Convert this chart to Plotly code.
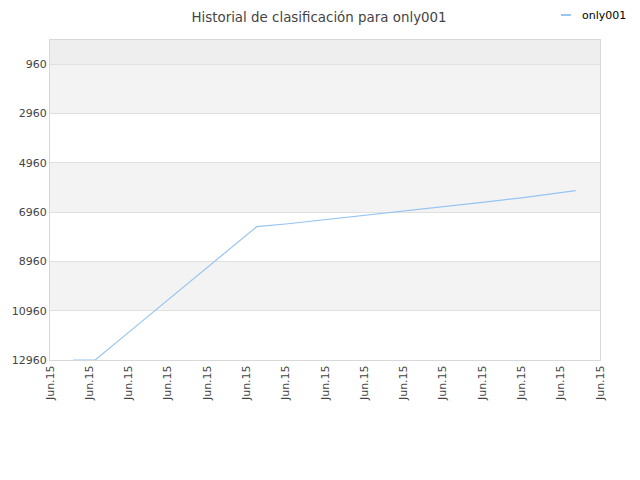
import plotly.graph_objects as go

# data (x in tick-slot units, y = rank)
x_pos = [0.59, 1.15, 2.0, 3.0, 4.0, 5.26, 6.0, 7.0, 8.0, 9.0, 10.0, 11.0, 12.0, 13.38]
rank = [12960, 12960, 11840, 10530, 9220, 7550, 7440, 7270, 7090, 6920, 6740, 6560, 6380, 6090]

tick_pos = list(range(15))
tick_text = ["Jun.15"] * 15
y_ticks = [960, 2960, 4960, 6960, 8960, 10960, 12960]
series_name = "only001"
line_col = "#96c4f2"

fig = go.Figure()
fig.add_trace(go.Scatter(
    x=x_pos, y=rank, mode="lines", name=series_name,
    line=dict(color=line_col, width=1.2), showlegend=False,
))

# alternating bands
bands = [(-26, 960, "#eeeeee"), (960, 2960, "#f3f3f3"),
         (4960, 6960, "#f3f3f3"), (8960, 10960, "#f3f3f3")]
for y0, y1, c in bands:
    fig.add_shape(type="rect", xref="paper", yref="y", x0=0, x1=1, y0=y0, y1=y1,
                  fillcolor=c, line_width=0, layer="below")

# small legend like the original one
fig.add_shape(type="line", xref="paper", yref="paper", x0=0.929, x1=0.947,
              y0=1.078, y1=1.078, line=dict(color=line_col, width=2))
fig.add_annotation(text=series_name, xref="paper", yref="paper", x=0.9636, y=1.078,
                   xanchor="left", yanchor="middle", showarrow=False,
                   font=dict(size=11, color="#000000"))

# page body adds 8px, so margins are shifted by that
fig.update_layout(
    width=640, height=480,
    margin=dict(l=42, r=48, t=32, b=128),
    paper_bgcolor="white", plot_bgcolor="white",
    font=dict(family="DejaVu Sans", size=11, color="#444444"),
    title=dict(text="Historial de clasificación para only001", x=0.486,
               xanchor="center", y=0.981, yanchor="middle",
               font=dict(size=13.4, color="#444444")),
    showlegend=False,
    xaxis=dict(range=[0, 14], tickvals=tick_pos, ticktext=tick_text, tickangle=-90,
               showgrid=False, zeroline=False, showline=True, linecolor="#d8d8d8",
               mirror=True, ticks="", automargin=False,
               tickfont=dict(size=11, color="#444444")),
    yaxis=dict(range=[12960, -26], tickvals=y_ticks, ticktext=[str(v) for v in y_ticks],
               showgrid=True, gridcolor="#e0e0e0",
               zeroline=False, showline=True, linecolor="#d8d8d8", mirror=True,
               ticks="", automargin=False, tickfont=dict(size=11, color="#444444")),
)

fig.write_html("out.html")
